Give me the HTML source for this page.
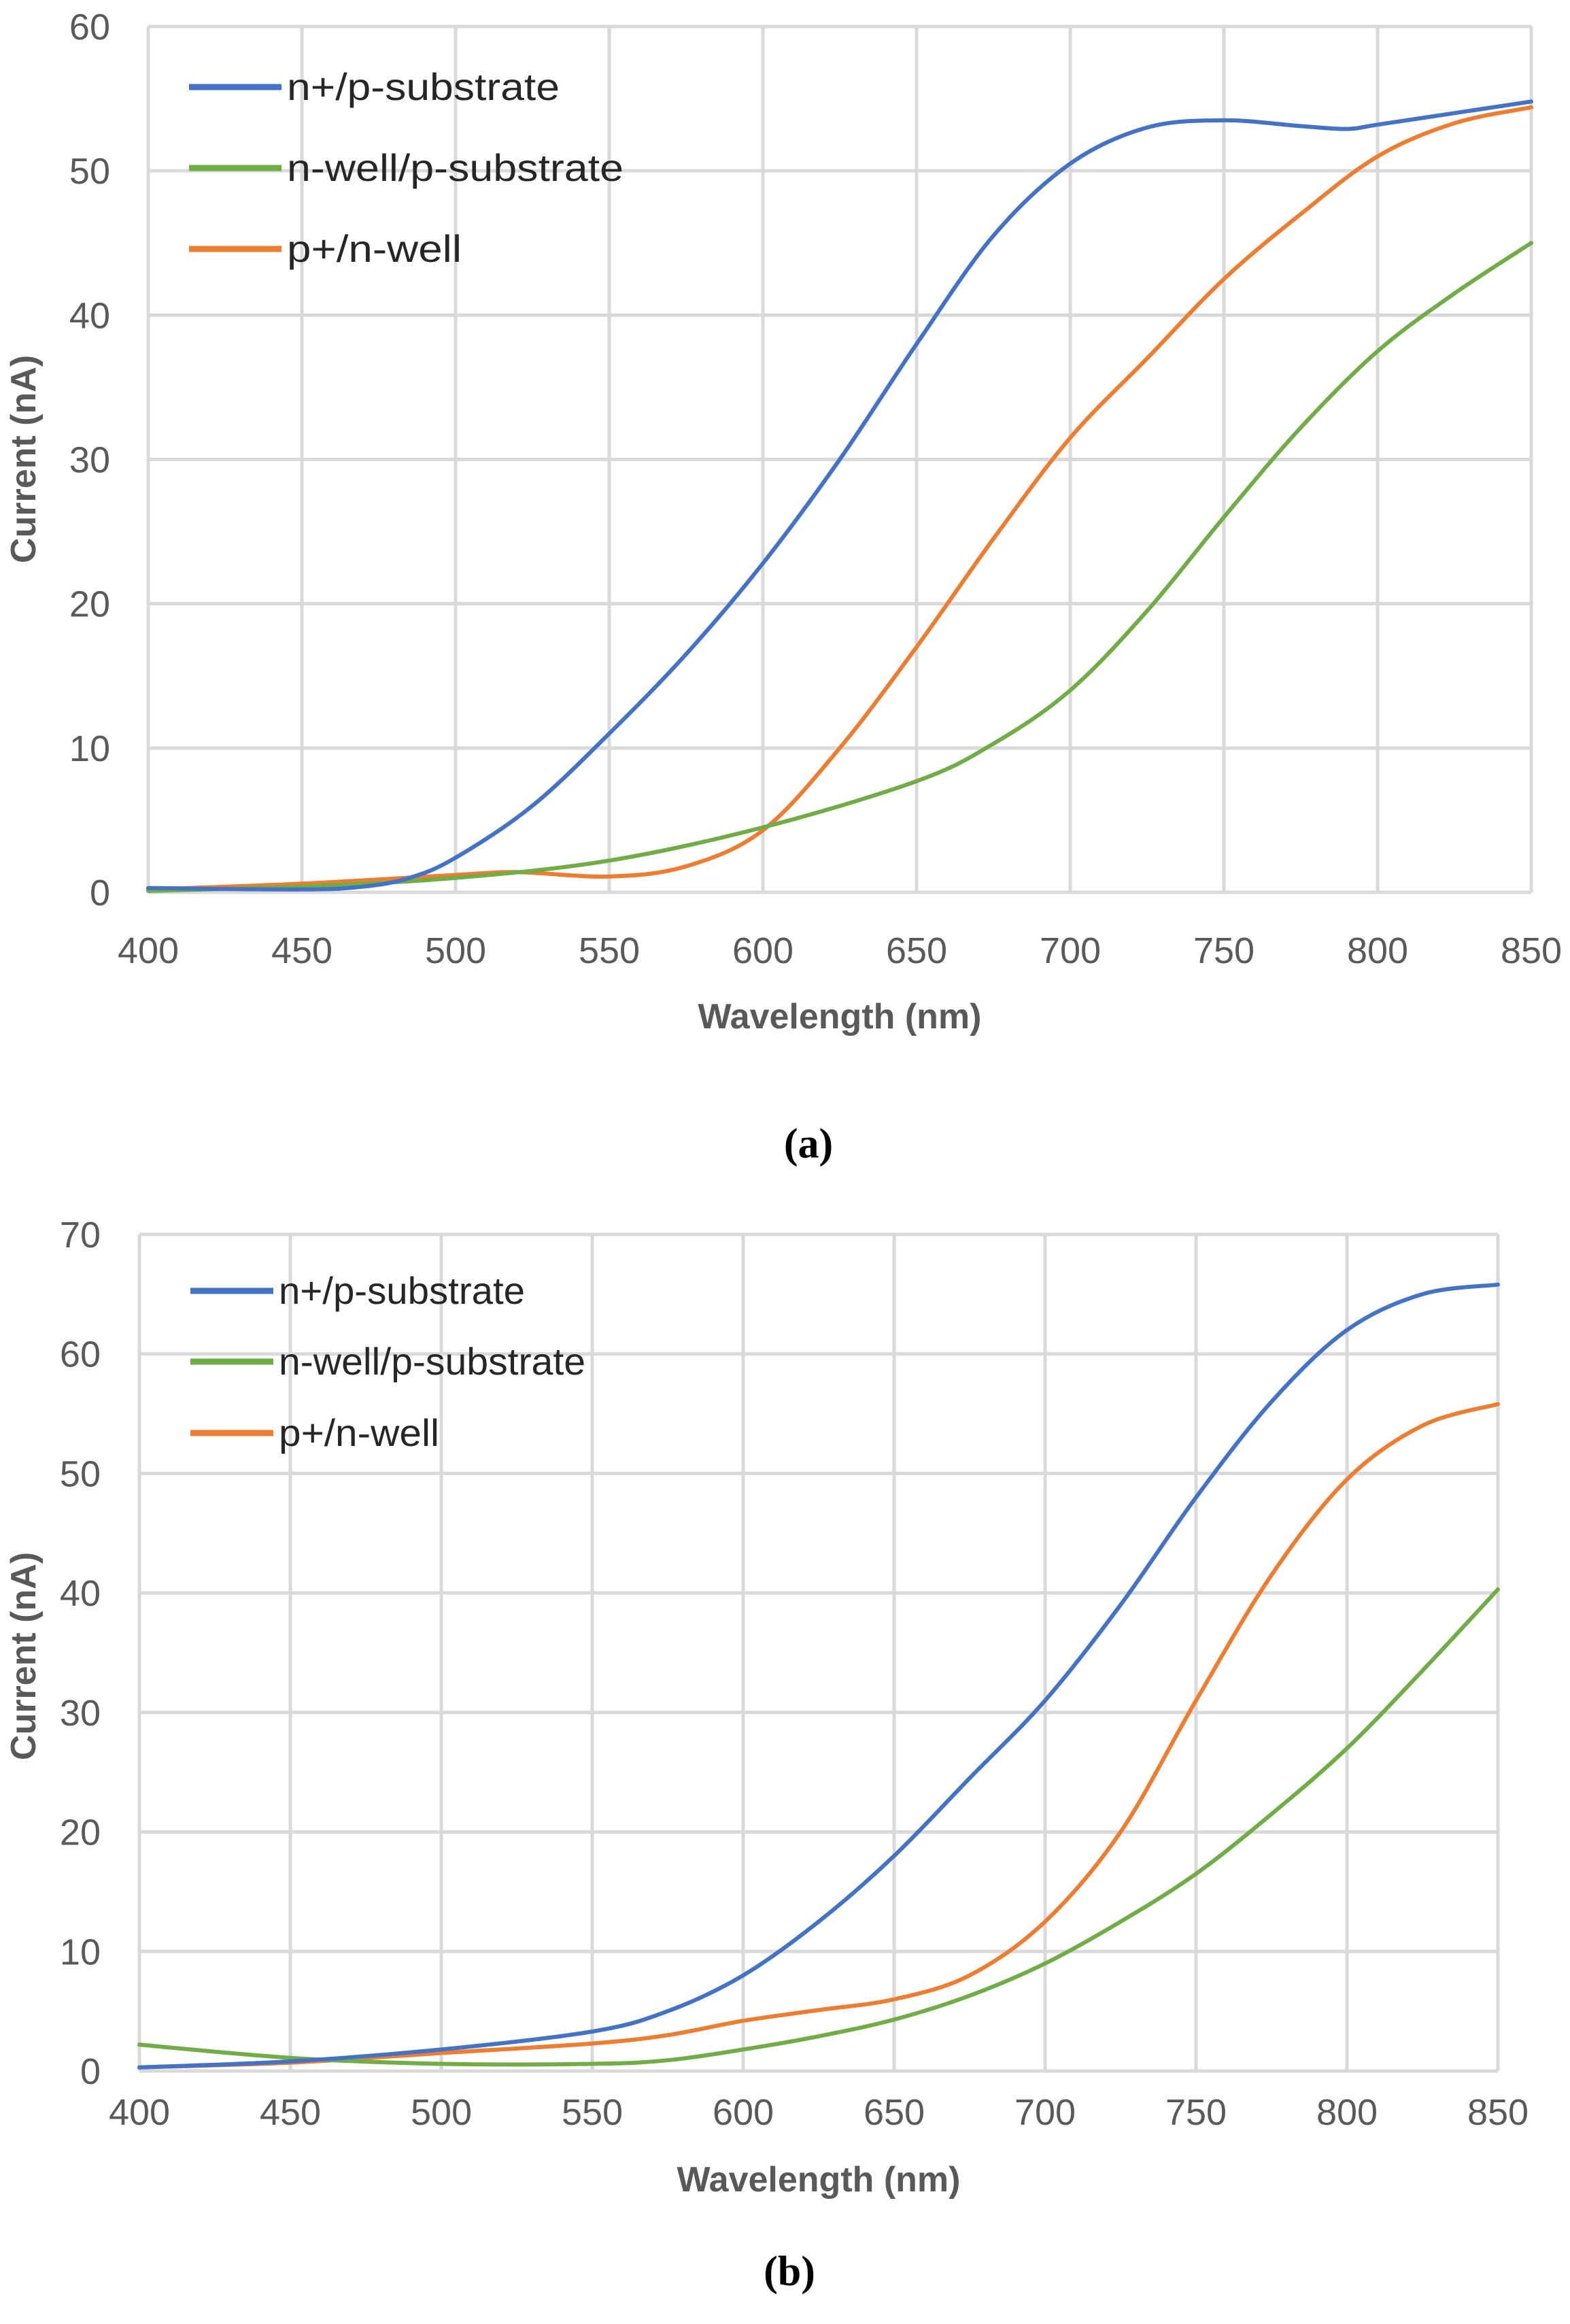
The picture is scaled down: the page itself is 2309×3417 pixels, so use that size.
<!DOCTYPE html>
<html><head><meta charset="utf-8"><style>
html,body{margin:0;padding:0;background:#fff;}
svg{display:block;}
</style></head><body>
<svg id="s" width="2309" height="3417" viewBox="0 0 2309 3417" xmlns="http://www.w3.org/2000/svg">
<rect width="2309" height="3417" fill="#fff"/>
<g id="g"></g>
<g font-family="Liberation Sans, sans-serif">
<text x="1189" y="1702" font-family="Liberation Serif, serif" font-weight="bold" font-size="62" text-anchor="middle" fill="#000">(a)</text>
<text x="1161" y="3360" font-family="Liberation Serif, serif" font-weight="bold" font-size="62" text-anchor="middle" fill="#000">(b)</text>
</g>
</svg>
<script>
const NS="http://www.w3.org/2000/svg";
const g=document.getElementById('g');
function el(t,a,txt){const e=document.createElementNS(NS,t);for(const k in a)e.setAttribute(k,a[k]);if(txt!==undefined)e.textContent=txt;g.appendChild(e);return e;}
function path(pts){let d="M"+pts[0][0]+","+pts[0][1];for(let i=0;i<pts.length-1;i++){const p0=pts[Math.max(0,i-1)],p1=pts[i],p2=pts[i+1],p3=pts[Math.min(pts.length-1,i+2)];const c1=[p1[0]+(p2[0]-p0[0])/6,p1[1]+(p2[1]-p0[1])/6],c2=[p2[0]-(p3[0]-p1[0])/6,p2[1]-(p3[1]-p1[1])/6];d+=" C"+c1.join(",")+" "+c2.join(",")+" "+p2.join(",");}return d;}
function chart(c){
 const X=w=>c.x0+(w-400)/450*(c.x1-c.x0), Y=v=>c.y0-(v/c.ymax)*(c.y0-c.ytop);
 for(let w=400;w<=850;w+=50){el('line',{x1:X(w),x2:X(w),y1:c.ytop,y2:c.y0,stroke:'#d9d9d9','stroke-width':5});
  el('text',{x:X(w),y:c.xl,'font-family':'Liberation Sans, sans-serif','font-size':54,fill:'#595959','text-anchor':'middle'},String(w));}
 for(let v=0;v<=c.ymax;v+=10){el('line',{x1:c.x0,x2:c.x1,y1:Y(v),y2:Y(v),stroke:'#d9d9d9','stroke-width':5});
  el('text',{x:c.yl,y:Y(v)+19,'font-family':'Liberation Sans, sans-serif','font-size':54,fill:'#595959','text-anchor':'end'},String(v));}
 el('text',{x:c.tx,y:c.ty,'font-family':'Liberation Sans, sans-serif','font-size':52,'font-weight':'bold',fill:'#595959','text-anchor':'middle'},'Wavelength (nm)');
 el('text',{x:0,y:0,transform:`translate(${c.yx},${c.yy}) rotate(-90)`,'font-family':'Liberation Sans, sans-serif','font-size':52,'font-weight':'bold',fill:'#595959','text-anchor':'middle'},'Current (nA)');
 const cols={b:'#4472C4',gr:'#70AD47',o:'#ED7D31'};
 for(const k of c.order){const pts=c.data[k].map(p=>[X(p[0]).toFixed(1),Y(p[1]).toFixed(1)].map(Number));
  el('path',{d:path(pts),fill:'none',stroke:cols[k],'stroke-width':6,'stroke-linejoin':'round','stroke-linecap':'round'});}
 const names={b:'n+/p-substrate',gr:'n-well/p-substrate',o:'p+/n-well'};
 ['b','gr','o'].forEach((k,i)=>{const y=c.ly[i];el('line',{x1:c.lx0,x2:c.lx1,y1:y,y2:y,stroke:cols[k],'stroke-width':9});
  el('text',{x:c.lx1+8,y:y+19,'font-family':'Liberation Sans, sans-serif','font-size':56,fill:'#262626',textLength:c.tl[i],lengthAdjust:'spacingAndGlyphs'},names[k]);});
}
chart({x0:218,x1:2252,ytop:39,y0:1312,ymax:60,xl:1416,yl:162,tx:1235,ty:1512,yx:52,yy:675,lx0:278,lx1:414,ly:[128,247,366],tl:[401,495,257],order:['o','gr','b'],
data:{
b:[[400,0.3],[450,0.2],[470,0.4],[485,1.0],[500,2.4],[525,6],[550,11],[575,16.5],[600,22.8],[625,30],[650,38],[675,45.5],[700,50.5],[725,53],[750,53.5],[775,53.1],[790,52.9],[800,53.2],[825,54],[850,54.8]],
gr:[[400,0.1],[450,0.4],[500,1.0],[550,2.2],[600,4.5],[650,7.7],[675,10.3],[700,14],[725,19.5],[750,26],[775,32.2],[800,37.5],[825,41.5],[850,45]],
o:[[400,0.2],[450,0.6],[500,1.2],[520,1.4],[550,1.1],[575,1.8],[600,4.3],[625,10],[650,17],[675,24.5],[700,31.5],[725,37],[750,42.5],[775,47],[800,51],[825,53.3],[850,54.4]]}});
chart({x0:205,x1:2203,ytop:1815,y0:3045,ymax:70,xl:3124,yl:148,tx:1204,ty:3222,yx:52,yy:2435,lx0:280,lx1:402,ly:[1898,2002,2107],tl:[362,451,236],order:['o','gr','b'],
data:{
b:[[400,0.3],[450,0.8],[500,1.8],[550,3.3],[575,5],[600,8],[625,12.5],[650,18],[675,24.5],[700,31],[725,39],[750,48],[775,56],[800,62],[825,65],[850,65.8]],
gr:[[400,2.2],[450,1.1],[500,0.6],[550,0.6],[575,0.9],[600,1.8],[625,2.9],[650,4.3],[675,6.3],[700,9],[725,12.5],[750,16.5],[775,21.5],[800,27],[825,33.5],[850,40.3]],
o:[[400,0.3],[450,0.7],[500,1.5],[550,2.3],[575,3],[600,4.2],[625,5.1],[650,6],[675,8],[700,12.5],[725,20],[750,31],[775,41.5],[800,49.5],[825,54],[850,55.8]]}});
</script>
</body></html>
